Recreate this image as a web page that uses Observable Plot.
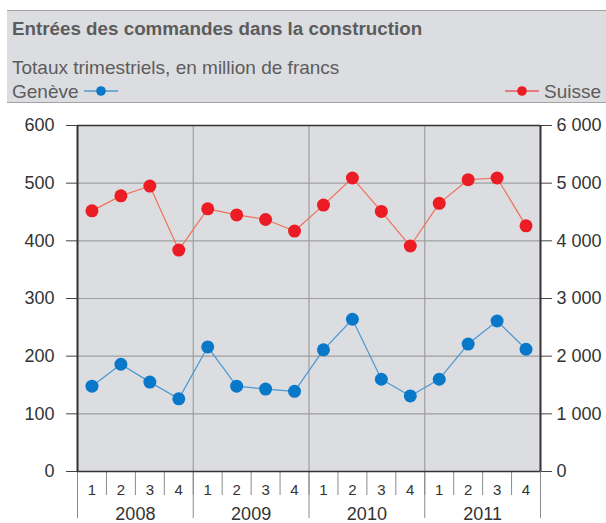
<!DOCTYPE html>
<html><head><meta charset="utf-8">
<script src="https://cdn.jsdelivr.net/npm/d3@7"></script>
<script src="https://cdn.jsdelivr.net/npm/@observablehq/plot@0.6"></script>
<style>
body{margin:0;background:#fff;font-family:"Liberation Sans",Arial,sans-serif;}
#wrap{width:606px;}
#head{position:relative;height:105px;}
#box{position:absolute;left:7px;right:0;top:10px;height:91px;background:#dcdde0;border-top:1.5px solid #a3a3a3;border-bottom:1.5px solid #a3a3a3;color:#5c5c5c;}
.t{position:absolute;white-space:nowrap;line-height:1;}
#title{left:5px;top:9px;font-size:18.8px;font-weight:bold;}
#sub{left:5px;top:47px;font-size:19px;}
#lg{left:5px;top:71px;font-size:19px;}
#ls{right:5px;top:71px;font-size:19px;}
.mk{display:inline-block;vertical-align:middle;margin-top:-3px;}
</style></head>
<body><div id="wrap">
<div id="head"><div id="box">
<div class="t" id="title">Entrées des commandes dans la construction</div>
<div class="t" id="sub">Totaux trimestriels, en million de francs</div>
<div class="t" id="lg">Genève <svg class="mk" width="34" height="12"><line x1="0" x2="34" y1="6" y2="6" stroke="#0a78c8" stroke-width="1.2"/><circle cx="17" cy="6" r="4.8" fill="#0a78c8"/></svg></div>
<div class="t" id="ls"><svg class="mk" width="34" height="12"><line x1="0" x2="34" y1="6" y2="6" stroke="#ec1c24" stroke-width="1.2"/><circle cx="17" cy="6" r="4.8" fill="#ec1c24"/></svg> Suisse</div>
</div></div>
<div id="chart"></div>
</div>
<script>
const years = [2008, 2009, 2010, 2011];
const quarters = [1, 2, 3, 4];
const geneve = [148, 186, 155, 126, 216, 148, 143, 139, 211, 264, 160, 131, 160, 221, 261, 212];
const suisse = [4520, 4780, 4950, 3840, 4555, 4450, 4370, 4170, 4620, 5090, 4510, 3910, 4650, 5060, 5090, 4260];
const leftTicks = [0, 100, 200, 300, 400, 500, 600];
const rightTicks = [0, 1000, 2000, 3000, 4000, 5000, 6000];

const rows = [];
years.forEach((yr, i) => quarters.forEach((q, j) => {
  const k = i * quarters.length + j;
  rows.push({pos: k + 0.5, year: yr, q, ge: geneve[k], ch: suisse[k] / 10});
}));
const n = rows.length;
const edges = d3.range(0, n + 1);
const yearEdges = d3.range(0, n + 1, quarters.length);
const yearCenters = years.map((y, i) => i * quarters.length + quarters.length / 2);
const fmt = d => d3.format(",")(d).replace(/,/g, "\u00a0");

const chart = Plot.plot({
  width: 606,
  height: 418,
  marginTop: 20,
  marginBottom: 52,
  marginLeft: 77,
  marginRight: 66,
  style: {fontFamily: '"Liberation Sans", Arial, sans-serif', color: "#333", background: "#fff"},
  x: {type: "linear", domain: [0, n], label: null},
  y: {domain: [0, 600], label: null},
  marks: [
    Plot.frame({fill: "#dcdde0", stroke: "none"}),
    Plot.ruleY([100, 200, 300, 400, 500], {stroke: "#9f9f9f", strokeWidth: 1.2}),
    Plot.ruleX(yearEdges.slice(1, -1), {stroke: "#9f9f9f", strokeWidth: 1.2}),
    Plot.axisX(edges, {tickSize: 24, tickFormat: () => "", stroke: "#8a8a8a", label: null}),
    Plot.axisX(yearEdges, {tickSize: 47, tickFormat: () => "", stroke: "#8a8a8a", label: null}),
    Plot.axisX(rows.map(d => d.pos), {tickSize: 0, tickPadding: 13, fontSize: 15, label: null,
      tickFormat: d => String(quarters[Math.floor(d) % quarters.length])}),
    Plot.axisX(yearCenters, {tickSize: 0, tickPadding: 36, fontSize: 18, label: null,
      tickFormat: d => String(years[yearCenters.indexOf(d)])}),
    Plot.axisY(leftTicks, {anchor: "left", tickSize: 11, tickPadding: 12, fontSize: 18, label: null, stroke: "#444"}),
    Plot.axisY(rightTicks.map(d => d / 10), {anchor: "right", tickSize: 11, tickPadding: 5, fontSize: 18, label: null, stroke: "#444",
      tickFormat: d => fmt(d * 10)}),
    Plot.ruleX([0, n], {stroke: "#333", strokeWidth: 2}),
    Plot.ruleY([600], {stroke: "#333", strokeWidth: 1.5}),
    Plot.ruleY([0], {stroke: "#333", strokeWidth: 1.5}),
    Plot.line(rows, {x: "pos", y: "ch", stroke: "#f0715a", strokeWidth: 1.2}),
    Plot.dot(rows, {x: "pos", y: "ch", r: 6.5, fill: "#ec1c24", stroke: "none"}),
    Plot.line(rows, {x: "pos", y: "ge", stroke: "#4a98d3", strokeWidth: 1.2}),
    Plot.dot(rows, {x: "pos", y: "ge", r: 6.5, fill: "#0a78c8", stroke: "none"})
  ]
});
document.getElementById("chart").appendChild(chart);
</script>
</body></html>
